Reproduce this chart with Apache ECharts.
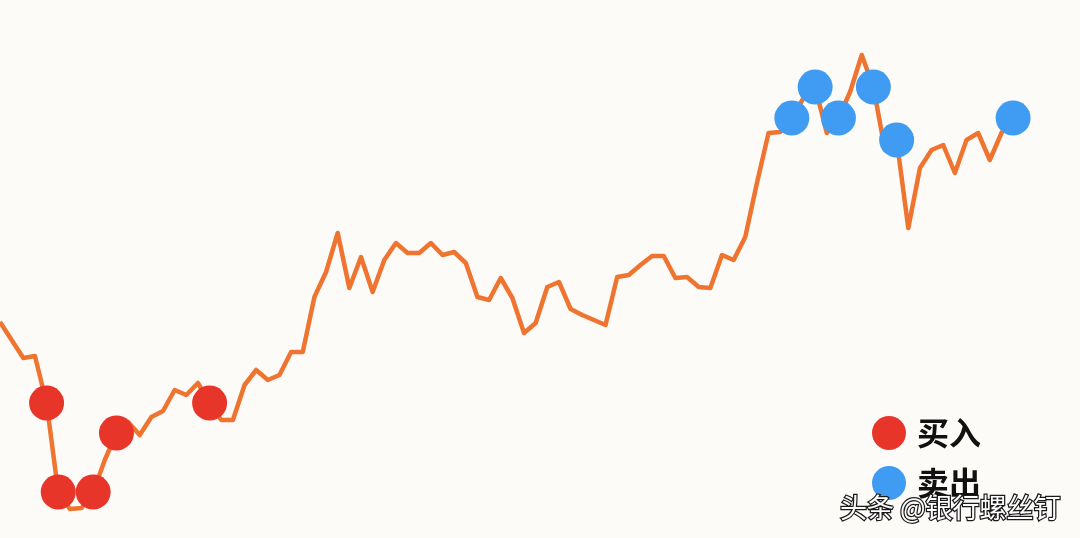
<!DOCTYPE html>
<html>
<head>
<meta charset="utf-8">
<script src="https://cdn.jsdelivr.net/npm/echarts@6/dist/echarts.min.js"></script>
<style>
html,body{margin:0;padding:0;background:#fdfbf7;}
#chart{width:1080px;height:538px;}
</style>
</head>
<body>
<div id="chart"></div>
<script>
// Index level (arbitrary units, one point per period)
const indexValues = [
  216, 198, 180, 182, 135, 46, 29, 30, 46, 78,
  105, 116, 103, 121, 127, 148, 143, 155, 135, 118,
  118, 153, 168, 158, 163, 186, 186, 241, 266, 305,
  250, 281, 246, 278, 295, 285, 285, 295, 283, 286,
  275, 241, 238, 260, 240, 205, 215, 251, 256, 229,
  223, 218, 213, 261, 263, 273, 282, 282, 260, 261,
  251, 250, 283, 278, 301, 355, 405, 406, 420, 440,
  451, 405, 420, 446, 483, 451, 388, 398, 310, 370,
  388, 393, 365, 398, 405, 378, 405, 420
];
// Periods (category labels)
const periods = indexValues.map((_, i) => 'P' + (i + 1));
// Positions (period indices) of buy and sell signals
const buyIdx = [4, 5, 8, 10, 18];
const sellIdx = [68, 70, 72, 75, 77, 87];
const legendNames = ['买入', '卖出'];
const watermark = '头条 @银行螺丝钉';

const buyData = buyIdx.map(i => [periods[i], indexValues[i]]);
const sellData = sellIdx.map(i => [periods[i], indexValues[i]]);

const chart = echarts.init(document.getElementById('chart'));
chart.setOption({
  animation: false,
  backgroundColor: '#fdfbf7',
  textStyle: { fontFamily: '"Noto Sans CJK SC", "Noto Sans", sans-serif' },
  grid: { left: -8, right: 66.9, top: 0, bottom: 0, containLabel: false },
  xAxis: {
    type: 'category', data: periods, boundaryGap: false, show: false
  },
  yAxis: { type: 'value', min: 0, max: 538, show: false },
  legend: {
    data: legendNames,
    orient: 'vertical',
    left: 872, top: 416,
    padding: 0,
    itemWidth: 34, itemHeight: 34, itemGap: 16,
    icon: 'circle',
    textStyle: {
      fontSize: 32, fontWeight: 'bold', color: '#111',
      fontFamily: '"Noto Sans CJK SC", sans-serif',
      padding: [0, 0, 0, 6]
    }
  },
  title: {
    text: watermark,
    right: 12, bottom: 9,
    textStyle: {
      fontSize: 27, fontWeight: 'normal', color: '#ffffff',
      textBorderColor: '#1a1a1a', textBorderWidth: 2.5,
      fontFamily: '"Noto Sans CJK SC", sans-serif'
    }
  },
  series: [
    {
      type: 'line', data: indexValues, symbol: 'none', smooth: false,
      lineStyle: { color: '#ee7430', width: 4.5, join: 'round' },
      z: 2
    },
    {
      name: legendNames[0], type: 'scatter', data: buyData,
      symbol: 'circle', symbolSize: 35,
      itemStyle: { color: '#e8352a', opacity: 1 }, z: 3
    },
    {
      name: legendNames[1], type: 'scatter', data: sellData,
      symbol: 'circle', symbolSize: 35,
      itemStyle: { color: '#409cf2', opacity: 1 }, z: 3
    }
  ]
});
</script>
</body>
</html>
